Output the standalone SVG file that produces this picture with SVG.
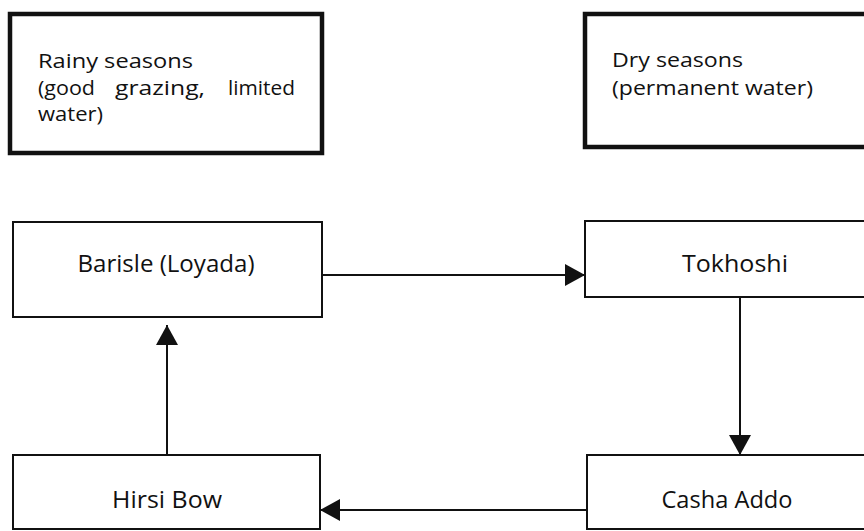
<svg xmlns="http://www.w3.org/2000/svg" width="864" height="531" viewBox="0 0 864 531">
<style>
  text { font-family: "Open Sans", "Liberation Sans", sans-serif; fill: #111; }
  .hdr { fill: #fff; stroke: #111; stroke-width: 4.5; }
  .box { fill: #fff; stroke: #111; stroke-width: 2; }
  .h { font-size: 20.5px; }
  .n { font-size: 23px; text-anchor: middle; }
  .conn { stroke: #111; stroke-width: 2; fill: none; }
</style>
<defs>
  <marker id="arr" viewBox="0 0 20 22" refX="20" refY="11" markerWidth="20" markerHeight="22" markerUnits="userSpaceOnUse" orient="auto">
    <path d="M0,0 L20,11 L0,22 Z" fill="#111"/>
  </marker>
</defs>
<rect width="864" height="531" fill="#fff"/>

<g id="rainy">
  <rect class="hdr" x="10" y="14" width="312" height="139"/>
  <text class="h" x="38" y="68" textLength="155" lengthAdjust="spacingAndGlyphs">Rainy seasons</text>
  <text class="h" x="38" y="95" textLength="57" lengthAdjust="spacingAndGlyphs">(good</text>
  <text class="h" x="115" y="95" textLength="90" lengthAdjust="spacingAndGlyphs">grazing,</text>
  <text class="h" x="228" y="95" textLength="67" lengthAdjust="spacingAndGlyphs">limited</text>
  <text class="h" x="38" y="121" textLength="65" lengthAdjust="spacingAndGlyphs">water)</text>
</g>

<g id="dry">
  <rect class="hdr" x="585" y="14" width="300" height="133"/>
  <text class="h" x="612" y="67" textLength="131" lengthAdjust="spacingAndGlyphs">Dry seasons</text>
  <text class="h" x="612" y="95" textLength="201" lengthAdjust="spacingAndGlyphs">(permanent water)</text>
</g>

<g id="barisle">
  <rect class="box" x="13" y="222" width="309" height="95"/>
  <text class="n" x="166" y="272" textLength="177" lengthAdjust="spacingAndGlyphs">Barisle (Loyada)</text>
</g>

<g id="tokhoshi">
  <rect class="box" x="585" y="221" width="300" height="76"/>
  <text class="n" x="735" y="272" textLength="106" lengthAdjust="spacingAndGlyphs">Tokhoshi</text>
</g>

<g id="hirsi">
  <rect class="box" x="13" y="455" width="307" height="74"/>
  <text class="n" x="167" y="508" textLength="110" lengthAdjust="spacingAndGlyphs">Hirsi Bow</text>
</g>

<g id="casha">
  <rect class="box" x="587" y="455" width="300" height="74"/>
  <text class="n" x="727" y="508" textLength="131" lengthAdjust="spacingAndGlyphs">Casha Addo</text>
</g>

<g id="connectors">
  <line class="conn" x1="322" y1="275" x2="585" y2="275" marker-end="url(#arr)"/>
  <line class="conn" x1="740" y1="297" x2="740" y2="455" marker-end="url(#arr)"/>
  <line class="conn" x1="587" y1="510" x2="320" y2="510" marker-end="url(#arr)"/>
  <line class="conn" x1="167" y1="455" x2="167" y2="325" marker-end="url(#arr)"/>
</g>
</svg>
